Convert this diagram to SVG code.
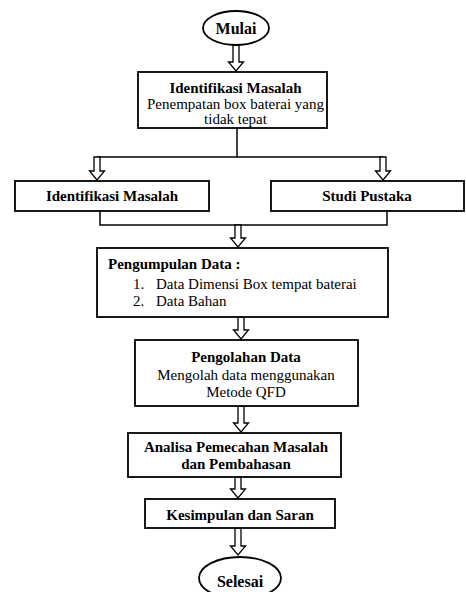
<svg xmlns="http://www.w3.org/2000/svg" width="466" height="592" viewBox="0 0 466 592">
<style>
.box{fill:#fff;stroke:#000;stroke-width:1.8}
.arr{fill:#fff;stroke:#000;stroke-width:1.3;stroke-linejoin:miter}
.ln{fill:none;stroke:#000;stroke-width:1.5}
text{font-family:'Liberation Serif','DejaVu Serif',serif;font-size:15px;fill:#000}
.b{font-weight:bold}
.c{text-anchor:middle}
</style>
<rect width="466" height="592" fill="#fff"/>
<g id="connectors">
<polyline class="ln" points="237,128 237,157"/>
<polyline class="ln" points="97,157 383,157"/>
<polyline class="ln" points="100,211 100,225 387,225 387,211"/>
<polygon class="arr" points="233,45 239,45 239,62 243.5,62 236,71 228.5,62 233,62"/>
<polygon class="arr" points="94,157 100,157 100,171 104.5,171 97,180 89.5,171 94,171"/>
<polygon class="arr" points="380,157 386,157 386,171 390.5,171 383,180 375.5,171 380,171"/>
<polygon class="arr" points="235,225 241,225 241,238 245.5,238 238,247 230.5,238 235,238"/>
<polygon class="arr" points="238,317 244,317 244,330 248.5,330 241,339 233.5,330 238,330"/>
<polygon class="arr" points="238,406 244,406 244,423 248.5,423 241,432 233.5,423 238,423"/>
<polygon class="arr" points="235,477 241,477 241,489 245.5,489 238,498 230.5,489 235,489"/>
<polygon class="arr" points="235,528 241,528 241,546 245.5,546 238,555 230.5,546 235,546"/>
</g>
<g id="mulai">
<ellipse class="box" cx="236" cy="28" rx="33" ry="17"/>
<text class="b c" x="236" y="34" style="font-size:16px">Mulai</text>
</g>
<g id="identifikasi1">
<rect class="box" x="138" y="72" width="189" height="56"/>
<text class="b c" x="235.5" y="93">Identifikasi Masalah</text>
<text class="c" x="235.5" y="109">Penempatan box baterai yang</text>
<text class="c" x="235.5" y="124">tidak tepat</text>
</g>
<g id="identifikasi2">
<rect class="box" x="15" y="181" width="194" height="30"/>
<text class="b c" x="112" y="201">Identifikasi Masalah</text>
</g>
<g id="studi">
<rect class="box" x="271" y="181" width="193" height="30"/>
<text class="b c" x="367" y="201">Studi Pustaka</text>
</g>
<g id="pengumpulan">
<rect class="box" x="97" y="248" width="291" height="69"/>
<text class="b" x="108" y="269">Pengumpulan Data :</text>
<text x="133" y="289">1.</text>
<text x="156" y="289">Data Dimensi Box tempat baterai</text>
<text x="133" y="306">2.</text>
<text x="156" y="306">Data Bahan</text>
</g>
<g id="pengolahan">
<rect class="box" x="135" y="340" width="223" height="66"/>
<text class="b c" x="246" y="362">Pengolahan Data</text>
<text class="c" x="246" y="380">Mengolah data menggunakan</text>
<text class="c" x="246" y="397">Metode QFD</text>
</g>
<g id="analisa">
<rect class="box" x="128" y="433" width="213" height="44"/>
<text class="b c" x="236" y="452">Analisa Pemecahan Masalah</text>
<text class="b c" x="236" y="469">dan Pembahasan</text>
</g>
<g id="kesimpulan">
<rect class="box" x="145" y="499" width="190" height="29"/>
<text class="b c" x="240" y="520">Kesimpulan dan Saran</text>
</g>
<g id="selesai">
<ellipse class="box" cx="240" cy="578" rx="41" ry="21"/>
<text class="b c" x="240" y="587" style="font-size:16px">Selesai</text>
</g>
</svg>
